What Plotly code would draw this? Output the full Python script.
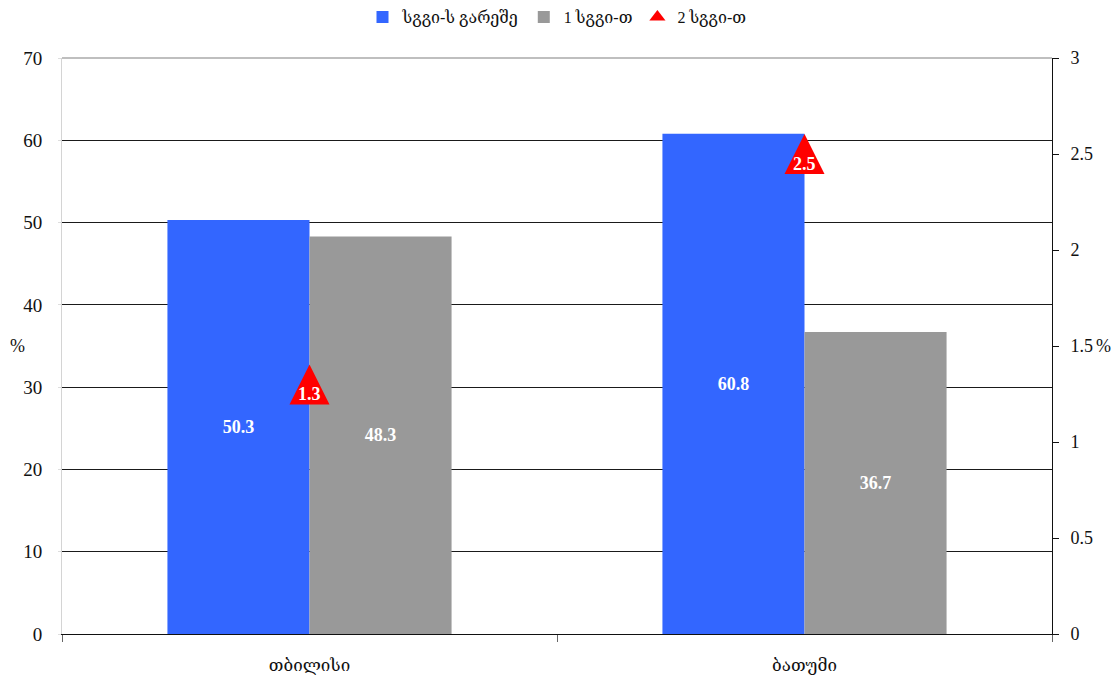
import plotly.graph_objects as go

# Cities and shares (%), left axis
cities = ["თბილისი", "ბათუმი"]
without_sti = [50.3, 60.8]
one_sti = [48.3, 36.7]
# Share (%) with two infections, right axis
two_sti = [1.3, 2.5]

series_names = ["სგგი-ს გარეშე", "1 სგგი-თ", "2 სგგი-თ"]

BLUE = "#3366FF"
GREY = "#999999"
RED = "#FF0000"
FONT = "Liberation Serif, DejaVu Serif, DejaVu Sans, serif"

fig = go.Figure()

fig.add_trace(go.Bar(
    x=cities, y=without_sti, name=series_names[0],
    marker=dict(color=BLUE, line=dict(width=0)),
    text=[f"{v:.1f}" for v in without_sti],
    textposition="inside", insidetextanchor="middle", textangle=0,
    textfont=dict(color="white", size=18, family=FONT, weight="bold"),
))
fig.add_trace(go.Bar(
    x=cities, y=one_sti, name=series_names[1],
    marker=dict(color=GREY, line=dict(width=0)),
    text=[f"{v:.1f}" for v in one_sti],
    textposition="inside", insidetextanchor="middle", textangle=0,
    textfont=dict(color="white", size=18, family=FONT, weight="bold"),
))

# legend entry for the triangle series
fig.add_trace(go.Scatter(
    x=[None], y=[None], mode="markers", name=series_names[2],
    marker=dict(symbol="triangle-up", color=RED, size=14),
    yaxis="y2",
))

# triangles centred on the value: arrow flipped up and pulled back by half its size
TRI = 40
fig.add_trace(go.Scatter(
    x=cities, y=two_sti, mode="markers", name=series_names[2],
    showlegend=False, yaxis="y2", hoverinfo="x+y",
    marker=dict(symbol="arrow-down", angle=180, standoff=TRI / 2,
                size=TRI, color=RED, line=dict(width=0)),
))

for c, v in zip(cities, two_sti):
    fig.add_annotation(
        x=c, y=v, yref="y2", text=f"<b>{v:.1f}</b>", showarrow=False,
        yshift=-10, font=dict(color="white", size=18, family=FONT),
    )

# horizontal unit labels beside both value axes
fig.add_annotation(xref="paper", yref="paper", x=0, y=0.5, xshift=-45,
                   xanchor="center", yanchor="middle", text="%", showarrow=False,
                   font=dict(size=18, family=FONT, color="#111111"))
fig.add_annotation(xref="paper", yref="paper", x=1, y=0.5, xshift=51,
                   xanchor="center", yanchor="middle", text="%", showarrow=False,
                   font=dict(size=18, family=FONT, color="#111111"))

fig.update_layout(
    width=1112, height=677,
    margin=dict(l=62, r=60, t=58, b=43, autoexpand=False),
    paper_bgcolor="white", plot_bgcolor="white",
    font=dict(family=FONT, size=18, color="#111111"),
    barmode="group", bargap=0.426, bargroupgap=0,
    showlegend=True,
    legend=dict(orientation="h", x=0.5, xanchor="center",
                yref="container", y=1.0, yanchor="top",
                font=dict(size=16, family=FONT), traceorder="normal",
                itemwidth=30, tracegroupgap=0),
    xaxis=dict(
        type="category", categoryorder="array", categoryarray=cities,
        showline=True, linecolor="#111111", linewidth=1,
        ticks="outside", tickson="boundaries", ticklen=7, tickcolor="#666666",
        showgrid=False, ticklabelstandoff=16, automargin=False,
        tickfont=dict(size=17),
    ),
    yaxis=dict(
        range=[0, 70], dtick=10, showgrid=True, gridcolor="#1a1a1a", gridwidth=1,
        showline=True, linecolor="#d4d4d4", linewidth=1,
        ticks="outside", ticklen=3, tickcolor="#dddddd",
        zeroline=False, ticklabelstandoff=12, automargin=False,
        tickfont=dict(size=19),
    ),
    yaxis2=dict(
        range=[0, 3], dtick=0.5, overlaying="y", side="right",
        showgrid=False, zeroline=False,
        showline=True, linecolor="#111111", linewidth=1,
        ticks="outside", ticklen=6, tickcolor="#111111",
        ticklabelstandoff=8, automargin=False,
        tickfont=dict(size=18),
    ),
    shapes=[dict(type="line", xref="paper", yref="paper", x0=0, x1=1, y0=1, y1=1,
                 line=dict(color="#aaaaaa", width=1.5), layer="above")],
)

fig.write_html("out.html")
